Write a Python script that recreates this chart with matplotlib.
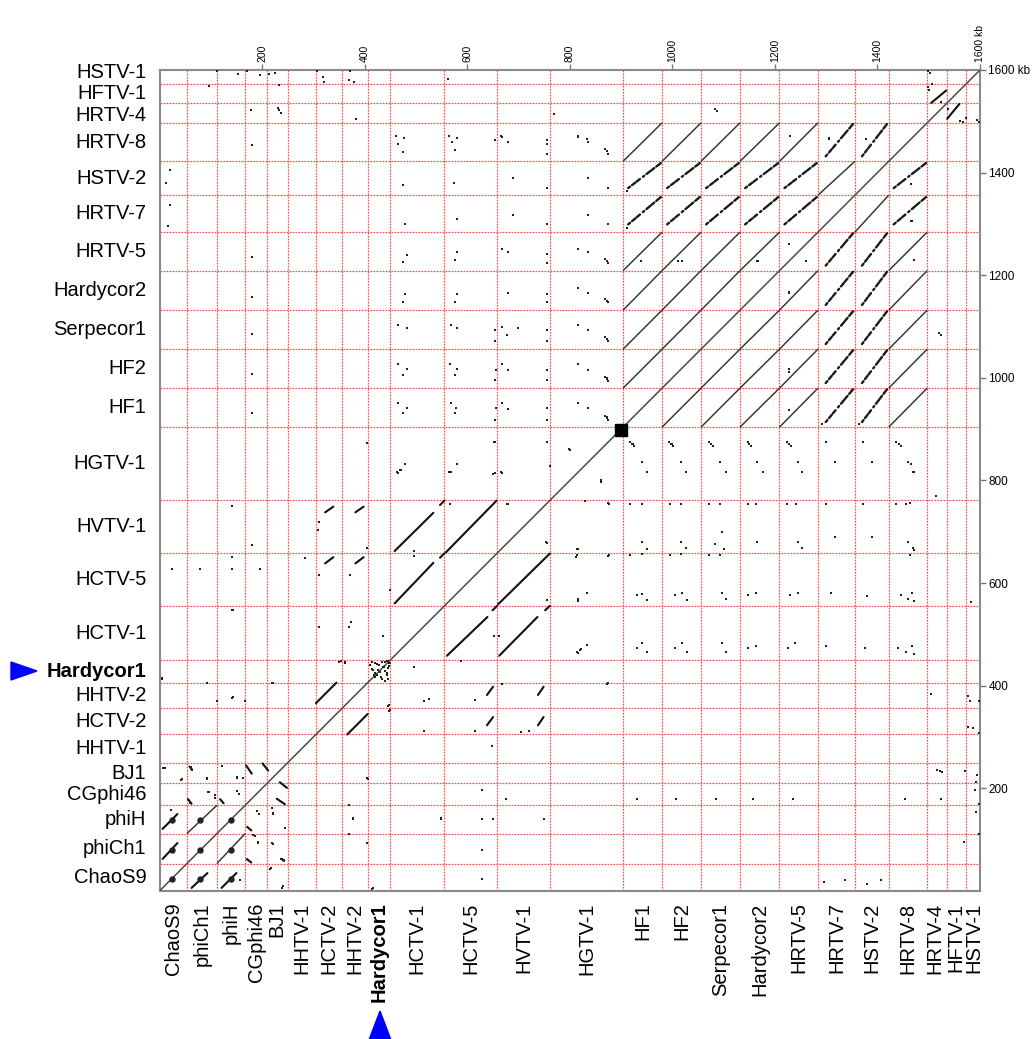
import numpy as np
import matplotlib
matplotlib.use("Agg")
import matplotlib.pyplot as plt
from matplotlib.patches import Polygon
from matplotlib.transforms import blended_transform_factory, offset_copy
from itertools import combinations

# ---------------- data ----------------
genomes = ["ChaoS9", "phiCh1", "phiH", "CGphi46", "BJ1", "HHTV-1", "HCTV-2", "HHTV-2",
           "Hardycor1", "HCTV-1", "HCTV-5", "HVTV-1", "HGTV-1", "HF1", "HF2", "Serpecor1",
           "Hardycor2", "HRTV-5", "HRTV-7", "HSTV-2", "HRTV-8", "HRTV-4", "HFTV-1", "HSTV-1"]
genome_kb = [53.5, 58.5, 55, 42.6, 40.4, 55, 51, 50, 44, 105.5, 102.5, 104, 142,
             76, 76, 76, 77, 75, 72, 66, 75, 38, 38.5, 26.5]
bold_genome = "Hardycor1"

tick_kb = [200, 400, 600, 800, 1000, 1200, 1400, 1600]
tick_labels = ["200", "400", "600", "800", "1000", "1200", "1400", "1600 kb"]

# genomes that are collinear over their full length (pairwise)
collinear_groups = [["HF1", "HF2", "Serpecor1", "Hardycor2", "HRTV-5", "HRTV-8"],
                    ["HRTV-7", "HSTV-2"],
                    ["phiCh1", "phiH"]]
# fragmented similarity between these two groups
frag_group_a = ["HF1", "HF2", "Serpecor1", "Hardycor2", "HRTV-5", "HRTV-8"]
frag_group_b = ["HRTV-7", "HSTV-2"]
frag_span_a = (0.13, 0.97)      # fraction of genome length
frag_span_b = (0.21, 0.95)
frag_pieces = [(0.0, 0.06), (0.12, 0.22), (0.26, 0.36), (0.45, 0.49), (0.56, 0.68),
               (0.71, 0.80), (0.86, 0.93), (0.95, 1.0)]

# partial similarity blocks: (genome a, start kb, end kb, genome b, start kb, end kb)
blocks = [
    ("ChaoS9", 6, 35, "phiCh1", 9, 40),
    ("ChaoS9", 6, 35, "phiH", 9, 38),
    ("HCTV-1", 8.5, 84, "HCTV-5", 5, 84),
    ("HCTV-1", 8.5, 84, "HVTV-1", 4.5, 79),
    ("HCTV-5", 3, 102, "HVTV-1", 2, 103),
    ("HCTV-1", 97, 105.5, "HCTV-5", 94, 102.5),
    ("HCTV-1", 97, 105.5, "HVTV-1", 94, 103),
    ("HCTV-2", 0, 40, "HHTV-2", 10, 50),
    ("HHTV-2", 26, 42, "HCTV-5", 83, 95),
    ("HHTV-2", 26, 42, "HVTV-1", 80, 91),
    ("HCTV-2", 18, 34, "HCTV-5", 83, 95),
    ("HCTV-2", 18, 34, "HVTV-1", 80, 91),
    ("HRTV-4", 8, 37, "HFTV-1", 1, 25),
    ("CGphi46", 34, 45, "BJ1", 39, 25),
    ("BJ1", 19, 35, "CGphi46", 13, 2),
    ("CGphi46", 3, 12, "phiCh1", 9, 2),
    ("BJ1", 28, 33, "phiCh1", 9.5, 5),
    ("phiH", 6, 13, "CGphi46", 12, 4),
]

# shared repeat element positions (global kb) in ChaoS9 / phiCh1 / phiH
repeat_blob_kb = [24, 79.4, 139]
# large repeat cluster on the diagonal (global kb)
big_repeat_kb = 899

# isolated matches (global kb, x, y) - mirrored when drawn
dots_top_rows = [(112, 1599), (153, 1593), (170, 1599), (196, 1590), (213, 1592), (226, 1595),
                 (307, 1599), (320, 1577), (371, 1599), (370, 1580), (380, 1576), (563, 1583),
                 (96, 1568), (234, 1570), (179, 1523), (232, 1526), (234, 1522), (770, 1515),
                 (1499, 1598), (1499, 1566), (1561, 1501), (1595, 1503), (1538, 1524), (1572, 1506)]
dots_a_rows = [(180, 1453), (462, 1472), (477, 1468), (565, 1472), (580, 1468), (655, 1464),
               (665, 1471), (756, 1464), (816, 1471), (833, 1466),
               (180, 1236), (180, 1158), (180, 1085), (180, 1007), (180, 932),
               (21, 1406), (21, 1337),
               (868, 1446), (872, 1442), (868, 1232), (872, 1228), (868, 1154), (872, 1150),
               (868, 1079), (872, 1075), (868, 1001), (872, 997), (868, 926), (872, 922),
               (1084, 1524), (1230, 1471), (1305, 1468), (938, 1228), (1012, 1228), (1166, 1228),
               (1227, 1260), (1227, 1168), (1227, 1018), (1292, 911), (1364, 911), (1520, 1087),
               (1465, 1377), (1471, 1230), (1465, 1306)]
dots_hctv_rows = [(678, 755), (567, 755), (754, 680), (876, 755), (814, 667), (918, 755), (941, 755),
                  (940, 680), (951, 667), (995, 755), (1016, 755), (1016, 680), (1027, 668),
                  (1071, 755), (1093, 755), (1097, 700), (1084, 677), (1100, 667), (1147, 755),
                  (1164, 755), (1166, 680), (1224, 755), (1241, 755), (1245, 680), (1252, 668),
                  (1299, 755), (1318, 690), (1371, 755), (1390, 690), (1437, 755), (1455, 755),
                  (1460, 680), (1470, 668),
                  (814, 654), (876, 654), (816, 569), (833, 581), (918, 654), (941, 657), (931, 576),
                  (941, 579), (951, 568), (995, 654), (1016, 657), (1006, 576), (1018, 581),
                  (1028, 567), (1071, 654), (1093, 654), (1097, 581), (1104, 569), (1147, 576),
                  (1164, 581), (1230, 576), (1245, 581), (1310, 580), (1380, 575), (1445, 576),
                  (1460, 570),
                  (814, 465), (833, 479), (821, 471), (931, 474), (941, 483), (951, 465), (1006, 474),
                  (1018, 483), (1028, 465), (1097, 483), (1104, 465), (1147, 474), (1164, 478),
                  (1225, 474), (1240, 483), (1300, 478), (1375, 474), (1440, 474), (1455, 465),
                  (587, 449), (652, 497), (663, 497),
                  (405, 874), (463, 817), (469, 820), (479, 833), (565, 817), (580, 833), (653, 875),
                  (650, 813), (666, 817), (756, 875), (761, 829), (798, 861), (860, 800), (918, 875),
                  (923, 872), (941, 836), (951, 817), (993, 875), (1000, 872), (1016, 836),
                  (1027, 817), (1071, 875), (1093, 836), (1104, 817), (1147, 875), (1166, 836),
                  (1176, 817), (1224, 875), (1245, 836), (1252, 817), (1299, 875), (1318, 836),
                  (1371, 875), (1390, 836), (1437, 875), (1460, 836), (1470, 817)]
dots_lower = [(873, 404), (668, 404), (616, 372), (616, 312), (704, 309), (720, 311), (649, 283),
              (1586, 318), (1505, 383), (1516, 236), (1296, 17), (1380, 13),
              (216, 42), (239, 6), (414, 4), (157, 22), (187, 108), (193, 94), (219, 93), (242, 61),
              (405, 93), (548, 143), (190, 156), (222, 152), (220, 162), (378, 143), (96, 192),
              (151, 195), (109, 182), (60, 172), (10, 240), (62, 238), (63, 236), (44, 218),
              (92, 221), (122, 244), (151, 221), (405, 221), (141, 377), (167, 370), (219, 406),
              (112, 370), (5, 416), (496, 436), (515, 370), (525, 374), (515, 312),
              (24, 628), (79, 628), (141, 628), (196, 628), (141, 651), (141, 750), (180, 675),
              (141, 548), (445, 361), (447, 351), (353, 449), (362, 447)]
hardycor1_cluster = [(414, 446), (424, 443), (434, 446), (444, 449), (414, 433), (427, 430),
                     (437, 436), (447, 439), (418, 420), (431, 417), (444, 420), (410, 440),
                     (421, 425), (440, 428), (448, 445)]

# ---------------- figure ----------------
W, H = 1032, 1039
fig = plt.figure(figsize=(W / 100, H / 100), dpi=100)
L, R, T, B = 159.5, 980, 70, 891
ax = fig.add_axes([L / W, 1 - B / H, (R - L) / W, (B - T) / H])

total = float(sum(genome_kb))
offset = dict(zip(genomes, np.concatenate([[0.0], np.cumsum(genome_kb)[:-1]])))
glen = dict(zip(genomes, genome_kb))
ax.set_xlim(0, total)
ax.set_ylim(0, total)

# genome boundaries
for bnd in np.cumsum(genome_kb)[:-1]:
    ax.axvline(bnd, color="#ff4a4a", lw=0.9, ls=(0, (1.4, 1.0)), zorder=1)
    ax.axhline(bnd, color="#ff4a4a", lw=0.9, ls=(0, (1.4, 1.0)), zorder=1)

# main diagonal
ax.plot([0, total], [0, total], color="#4a4a4a", lw=1.1, zorder=3)


def draw_seg(xa, xb, ya, yb, **kw):
    ax.plot([xa, xb], [ya, yb], **kw)
    ax.plot([ya, yb], [xa, xb], **kw)


line_kw = dict(color="#333333", lw=1.05, zorder=4, solid_capstyle="butt")
for grp in collinear_groups:
    for ga, gb in combinations(grp, 2):
        draw_seg(offset[ga], offset[ga] + glen[ga], offset[gb], offset[gb] + glen[gb], **line_kw)

frag_kw = dict(color="#1a1a1a", lw=1.7, zorder=4, solid_capstyle="round")
for ga in frag_group_a:
    for gb in frag_group_b:
        xa0 = offset[ga] + frag_span_a[0] * glen[ga]
        xa1 = offset[ga] + frag_span_a[1] * glen[ga]
        yb0 = offset[gb] + frag_span_b[0] * glen[gb]
        yb1 = offset[gb] + frag_span_b[1] * glen[gb]
        for t0, t1 in frag_pieces:
            draw_seg(xa0 + t0 * (xa1 - xa0), xa0 + t1 * (xa1 - xa0),
                     yb0 + t0 * (yb1 - yb0), yb0 + t1 * (yb1 - yb0), **frag_kw)

blk_kw = dict(color="#111111", lw=1.5, zorder=4, solid_capstyle="round")
for ga, a0, a1, gb, b0, b1 in blocks:
    draw_seg(offset[ga] + a0, offset[ga] + a1, offset[gb] + b0, offset[gb] + b1, **blk_kw)

# repeat blobs
for px in repeat_blob_kb:
    for py in repeat_blob_kb:
        ax.plot(px, py, "o", ms=3.6, color="#222222", zorder=5)
ax.plot(big_repeat_kb, big_repeat_kb, "s", ms=8, color="black", zorder=6)

all_dots = dots_top_rows + dots_a_rows + dots_hctv_rows + dots_lower + hardycor1_cluster
dx = np.array([d[0] for d in all_dots], dtype=float)
dy = np.array([d[1] for d in all_dots], dtype=float)
ax.scatter(np.concatenate([dx, dy]), np.concatenate([dy, dx]), s=3.5, c="#222222",
           marker="s", linewidths=0, zorder=5)

# axes styling
for sp in ax.spines.values():
    sp.set_color("#8a8a8a")
    sp.set_linewidth(1.5)
ax.xaxis.tick_top()
ax.yaxis.tick_right()
ax.set_xticks(tick_kb)
ax.set_xticklabels(tick_labels, rotation=90, fontsize=7.5, family="Liberation Sans")
ax.set_yticks(tick_kb)
ax.set_yticklabels(tick_labels, fontsize=8.5, family="Liberation Sans")
ax.tick_params(axis="both", direction="out", length=4, width=1, color="#777777", pad=2)

# genome labels (small genomes at the end are spread a little, in pixels)
left_nudge_px = {"HSTV-1": 4, "HFTV-1": 0, "HRTV-4": -2}
bottom_nudge_px = {"HRTV-4": -2, "HFTV-1": -1, "HSTV-1": 1}
tr_left = blended_transform_factory(ax.transAxes, ax.transData)
tr_bot = blended_transform_factory(ax.transData, ax.transAxes)
for g in genomes:
    c = offset[g] + glen[g] / 2
    fw = "bold" if g == bold_genome else "normal"
    ax.text(-0.016, c, g, ha="right", va="center", fontsize=14.5,
            family="Liberation Sans", fontweight=fw,
            transform=offset_copy(tr_left, fig=fig, y=left_nudge_px.get(g, 0), units="dots"))
    ax.text(c, -0.014, g, ha="center", va="top", rotation=90, fontsize=14.5,
            family="Liberation Sans", fontweight=fw,
            transform=offset_copy(tr_bot, fig=fig, x=bottom_nudge_px.get(g, 0), units="dots"))

# blue arrow markers
def px2fig(pts):
    return [(x / W, 1 - y / H) for x, y in pts]

fig.add_artist(Polygon(px2fig([(11, 662), (11, 680), (37, 671)]), closed=True,
                       transform=fig.transFigure, color="#0000ff"))
fig.add_artist(Polygon(px2fig([(369, 1040), (391, 1040), (380, 1011)]), closed=True,
                       transform=fig.transFigure, color="#0000ff"))

fig.savefig("out.png", dpi=100, facecolor="white")
